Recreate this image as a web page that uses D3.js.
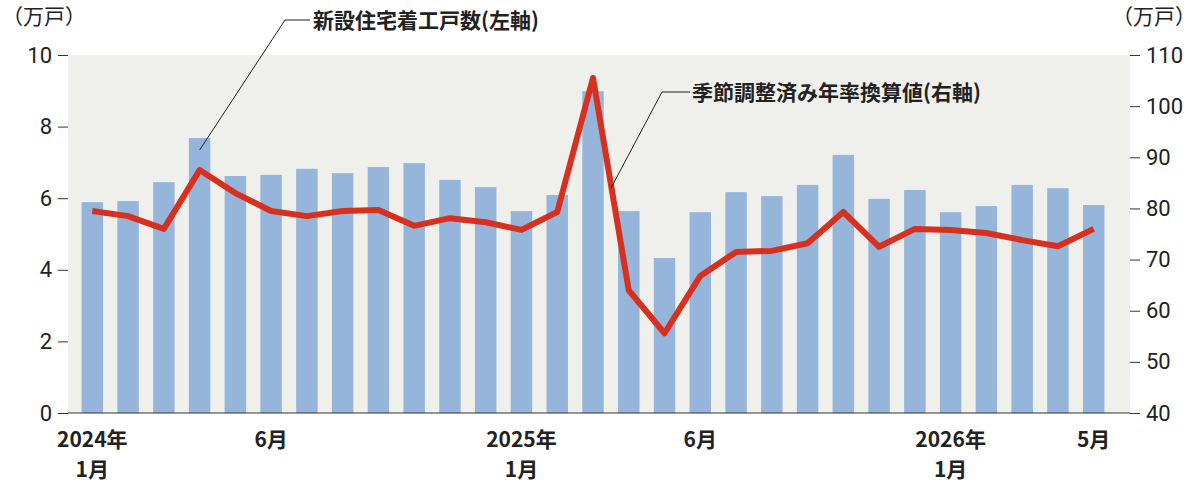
<!DOCTYPE html>
<html><head><meta charset="utf-8">
<script src="https://cdn.jsdelivr.net/npm/d3@7"></script>
<style>body{margin:0;background:#fff}text{font-family:"Noto Sans CJK JP","Noto Sans",sans-serif}</style>
</head><body><svg id="c" width="1200" height="494"></svg>
<script>
const months=["2024-01","2024-02","2024-03","2024-04","2024-05","2024-06","2024-07","2024-08","2024-09","2024-10","2024-11","2024-12","2025-01","2025-02","2025-03","2025-04","2025-05","2025-06","2025-07","2025-08","2025-09","2025-10","2025-11","2025-12","2026-01","2026-02","2026-03","2026-04","2026-05"];
const starts=[5.89,5.92,6.45,7.68,6.62,6.65,6.82,6.70,6.87,6.98,6.51,6.31,5.64,6.09,8.99,5.64,4.33,5.61,6.17,6.06,6.37,7.21,5.98,6.23,5.61,5.78,6.37,6.28,5.81];
const annualRate=[79.5,78.5,76,87.5,83,79.5,78.5,79.5,79.7,76.6,78.1,77.3,75.8,79.3,105.5,64,55.6,66.8,71.5,71.7,73.2,79.3,72.5,76,75.8,75.2,73.8,72.6,76];
const leftTicks=[0,2,4,6,8,10];
const rightTicks=[40,50,60,70,80,90,100,110];
const xLabels=[{i:0,t:["2024年","1月"]},{i:5,t:["6月"]},{i:12,t:["2025年","1月"]},{i:17,t:["6月"]},{i:24,t:["2026年","1月"]},{i:28,t:["5月"]}];

const svg=d3.select("#c");
const L=68,R=1130,T=55,B=413;
const x=d3.scaleBand().domain(months).range([L+10,R-22]).paddingInner(0.4).paddingOuter(0.1);
const yL=d3.scaleLinear().domain([0,10]).range([B,T]);
const yR=d3.scaleLinear().domain([40,110]).range([B,T]);
svg.append("rect").attr("x",L).attr("y",T).attr("width",R-L).attr("height",B-T).attr("fill","#efefec");
svg.selectAll(".bar").data(starts).join("rect").attr("x",(d,i)=>x(months[i])).attr("width",x.bandwidth())
 .attr("y",d=>yL(d)).attr("height",d=>B-yL(d)).attr("fill","#95b6da");
const fs=21;
const la=svg.append("g").attr("transform",`translate(${L},0)`).call(d3.axisLeft(yL).tickValues(leftTicks).tickSize(10).tickPadding(6));
const ra=svg.append("g").attr("transform",`translate(${R},0)`).call(d3.axisRight(yR).tickValues(rightTicks).tickSize(10).tickPadding(6));
[la,ra].forEach(g=>{g.select(".domain").remove();g.selectAll("line").attr("stroke","#333");g.selectAll("text").attr("font-size",22).attr("fill","#222").style("font-family","'Liberation Sans Narrow','Roboto',sans-serif");});
svg.append("line").attr("x1",L).attr("x2",R).attr("y1",B).attr("y2",B).attr("stroke","#333");
const line=d3.line().x((d,i)=>x(months[i])+x.bandwidth()/2).y(d=>yR(d));
svg.append("path").datum(annualRate).attr("d",line).attr("fill","none").attr("stroke","#d8301f").attr("stroke-width",6).attr("stroke-linejoin","round");
xLabels.forEach(l=>{const cx=x(months[l.i])+x.bandwidth()/2;
 l.t.forEach((t,k)=>svg.append("text").attr("x",cx).attr("y",447+k*30).attr("text-anchor","middle").attr("font-size",fs).attr("font-weight","bold").attr("fill","#222").text(t));});
svg.append("text").attr("x",2).attr("y",24).attr("font-size",fs).attr("fill","#222").text("（万戸）");
svg.append("text").attr("x",1196).attr("y",24).attr("text-anchor","end").attr("font-size",fs).attr("fill","#222").text("（万戸）");
const c4=x(months[3])+x.bandwidth()/2, c15=x(months[14])+x.bandwidth()/2;
svg.append("polyline").attr("points",`${c4},${yL(starts[3])+12} 285,20 310,20`).attr("fill","none").attr("stroke","#222");
svg.append("text").attr("x",313).attr("y",28).attr("font-size",21).attr("font-weight","bold").attr("fill","#222").text("新設住宅着工戸数(左軸)");
svg.append("polyline").attr("points",`${c15+18},${yR(84)} 662,92 690,92`).attr("fill","none").attr("stroke","#222");
svg.append("text").attr("x",692).attr("y",100).attr("font-size",21).attr("font-weight","bold").attr("fill","#222").text("季節調整済み年率換算値(右軸)");
</script></body></html>
